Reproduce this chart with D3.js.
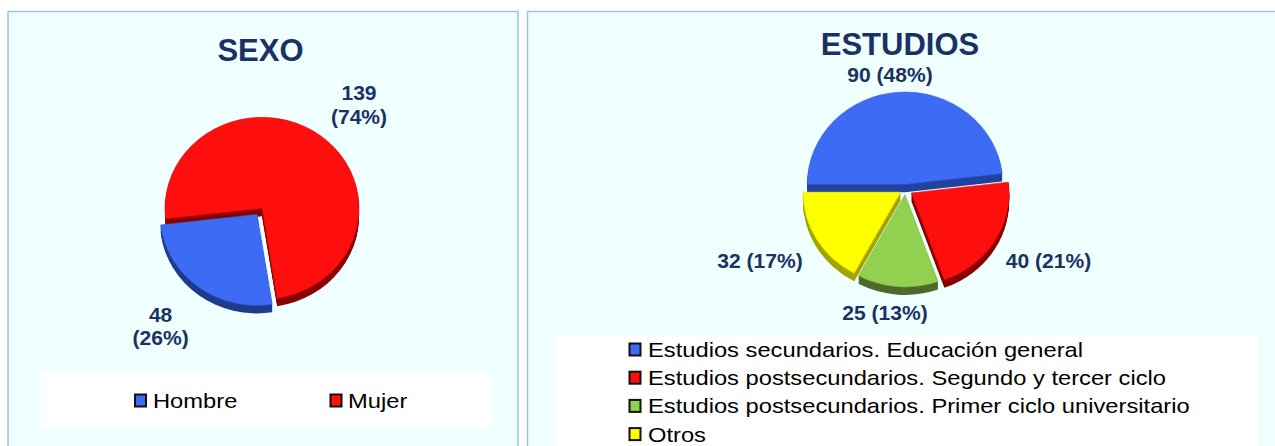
<!DOCTYPE html>
<html>
<head>
<meta charset="utf-8">
<script src="https://cdn.jsdelivr.net/npm/d3@7"></script>
<style>
  html, body { margin: 0; padding: 0; background: #ffffff; }
  svg { display: block; }
  text { font-family: "Liberation Sans", Arial, sans-serif; }
</style>
</head>
<body>
<svg id="chart" width="1275" height="446"></svg>
<script>
// ---------- DATA ----------
const sexoTitle = "SEXO";
const sexoCategories = ["Hombre", "Mujer"];
const sexoValues = [48, 139];
const sexoPercents = ["26%", "74%"];

const estudiosTitle = "ESTUDIOS";
const estudiosCategories = [
  "Estudios secundarios. Educación general",
  "Estudios postsecundarios. Segundo y tercer ciclo",
  "Estudios postsecundarios. Primer ciclo universitario",
  "Otros"
];
const estudiosValues = [90, 40, 25, 32];
const estudiosPercents = ["48%", "21%", "13%", "17%"];

// ---------- STYLE ----------
const panelFill = "#F0FFFF";
const panelStroke = "#9DC3E6";
const labelColor = "#1A3263";
const sexoColors = ["#3D6BF5", "#FF0E0E"];
const sexoSides = ["#1F3C8E", "#8A0000"];
const estColors = ["#3D6BF5", "#FF0E0E", "#92D050", "#FFFF00"];
const estSides = ["#23439E", "#8A0000", "#4C6A2A", "#A3A300"];

const svg = d3.select("#chart");

// panels
svg.append("rect").attr("x", 8).attr("y", 11.5).attr("width", 510).attr("height", 500)
  .attr("fill", panelFill).attr("stroke", panelStroke).attr("stroke-width", 1.5);
svg.append("rect").attr("x", 527.5).attr("y", 11.5).attr("width", 800).attr("height", 500)
  .attr("fill", panelFill).attr("stroke", panelStroke).attr("stroke-width", 1.5);

// legend boxes
svg.append("rect").attr("x", 41).attr("y", 373).attr("width", 450).attr("height", 55).attr("fill", "#ffffff");
svg.append("rect").attr("x", 556).attr("y", 335).attr("width", 702).attr("height", 200).attr("fill", "#ffffff");

// titles
function title(txt, x, y) {
  svg.append("text").attr("x", x).attr("y", y).attr("text-anchor", "middle")
    .attr("font-size", 31).attr("font-weight", "bold").attr("fill", labelColor).text(txt);
}
title(sexoTitle, 260.5, 61);
title(estudiosTitle, 900, 55);

// 3D-ish pie
function pie3d(values, colors, sides, opts) {
  const k = opts.ry / opts.rx;
  const pie = d3.pie().sort(null).value(d => d)
    .startAngle(opts.start).endAngle(opts.start + 2 * Math.PI);
  const arcs = pie(values);
  const arc = d3.arc().innerRadius(0).outerRadius(opts.rx);
  const g = svg.append("g");
  const off = arcs.map((a, i) => {
    const m = (a.startAngle + a.endAngle) / 2;
    const d = opts.explode[i];
    return [d * Math.sin(m), -d * Math.cos(m) * k];
  });
  // sides
  for (let dz = opts.depth; dz >= 1; dz--) {
    arcs.forEach((a, i) => {
      g.append("path")
        .attr("d", arc(a))
        .attr("fill", sides[i])
        .attr("transform", `translate(${opts.cx + off[i][0]},${opts.cy + off[i][1] + dz}) scale(1,${k})`);
    });
  }
  // faces
  arcs.forEach((a, i) => {
    g.append("path")
      .attr("d", arc(a))
      .attr("fill", colors[i])
      .attr("stroke", d3.color(colors[i]).darker(0.4))
      .attr("stroke-width", 0.6)
      .attr("transform", `translate(${opts.cx + off[i][0]},${opts.cy + off[i][1]}) scale(1,${k})`);
  });
}

pie3d(sexoValues, sexoColors, sexoSides, {
  cx: 262, cy: 208.3, rx: 97, ry: 91, depth: 8,
  start: 171 * Math.PI / 180, explode: [8.2, 0]
});
pie3d(estudiosValues, estColors, estSides, {
  cx: 905.4, cy: 189.5, rx: 97.8, ry: 92.3, depth: 8,
  start: -Math.PI / 2, explode: [5.5, 7, 5.5, 5.5]
});

// data labels
function label(txt, x, y) {
  svg.append("text").attr("transform", `translate(${x},${y}) scale(1.08,1)`)
    .attr("text-anchor", "middle").attr("font-size", 19.5).attr("font-weight", "bold")
    .attr("fill", labelColor).text(txt);
}
const sexoLabelPos = [[160.6, 321.5, 345], [359, 100, 124]];
sexoValues.forEach((v, i) => {
  label(String(v), sexoLabelPos[i][0], sexoLabelPos[i][1]);
  label("(" + sexoPercents[i] + ")", sexoLabelPos[i][0], sexoLabelPos[i][2]);
});
const estLabelPos = [[890, 82], [1048.5, 268], [885, 320], [760, 268]];
estudiosValues.forEach((v, i) => {
  label(v + " (" + estudiosPercents[i] + ")", estLabelPos[i][0], estLabelPos[i][1]);
});

// legends
function legendItem(color, txt, sx, tx, y) {
  svg.append("rect").attr("x", sx + 1).attr("y", y - 13.5).attr("width", 11).attr("height", 12)
    .attr("fill", color).attr("stroke", "#111").attr("stroke-width", 2);
  svg.append("text").attr("transform", `translate(${tx},${y}) scale(1.13,1)`)
    .attr("font-size", 21).attr("fill", "#000").text(txt);
}
const sexoLegendX = [[134, 153], [329.5, 348]];
sexoCategories.forEach((c, i) => legendItem(sexoColors[i], c, sexoLegendX[i][0], sexoLegendX[i][1], 408));
estudiosCategories.forEach((c, i) => legendItem(estColors[i], c, 628.5, 648, 357 + i * 28.2));
</script>
</body>
</html>
